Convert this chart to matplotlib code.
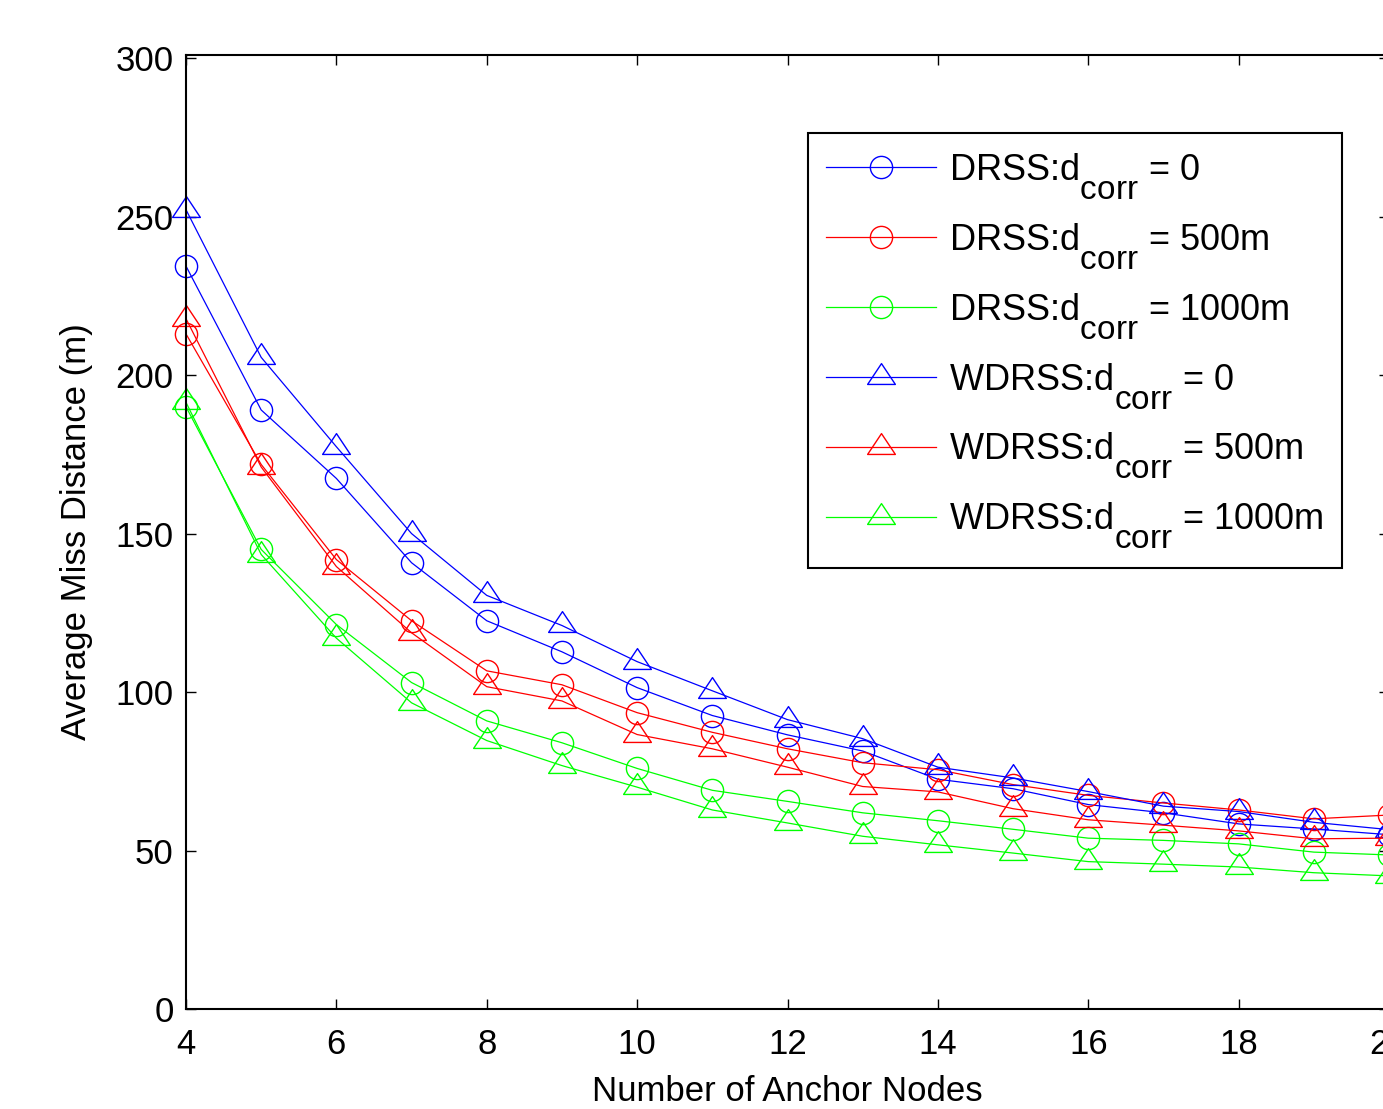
import numpy as np
import matplotlib
matplotlib.use("Agg")
import matplotlib.pyplot as plt
from matplotlib.path import Path
import matplotlib._mathtext as _mt

# MATLAB-like TeX subscripts: nearly full size, dropped lower
_mt.SHRINK_FACTOR = 0.92
_mt.FontConstantsBase.sub1 = 0.95

plt.rcParams['font.family'] = ['Liberation Sans', 'DejaVu Sans']
plt.rcParams['mathtext.fontset'] = 'custom'
plt.rcParams['mathtext.rm'] = 'Liberation Sans'
plt.rcParams['mathtext.it'] = 'Liberation Sans'

anchors = [4, 5, 6, 7, 8, 9, 10, 11, 12, 13, 14, 15, 16, 17, 18, 19, 20]

drss_0 = [234.4, 189.0, 167.4, 140.8, 122.5, 112.7, 101.4, 92.6, 86.5, 81.4, 72.5, 69.5, 64.5, 61.9, 58.4, 56.8, 55.0]
drss_500 = [213.0, 171.8, 141.8, 122.5, 106.7, 102.3, 93.5, 87.3, 82.1, 77.7, 75.5, 70.8, 67.4, 65.0, 62.8, 60.0, 61.2]
drss_1000 = [190.0, 145.0, 121.3, 103.0, 90.9, 84.0, 75.9, 69.0, 65.5, 61.9, 59.4, 56.7, 53.9, 53.2, 52.1, 49.5, 48.6]
wdrss_0 = [252.2, 205.6, 177.4, 150.0, 130.5, 121.0, 109.6, 100.4, 91.3, 85.3, 76.3, 72.9, 68.6, 64.0, 62.3, 58.9, 56.6]
wdrss_500 = [217.8, 171.0, 139.6, 118.7, 101.7, 97.2, 86.6, 82.1, 76.3, 70.2, 68.5, 63.2, 59.7, 58.0, 56.2, 53.7, 53.9]
wdrss_1000 = [191.4, 143.4, 117.0, 96.6, 84.7, 76.8, 70.0, 62.8, 58.7, 54.5, 51.8, 49.2, 46.5, 45.7, 44.8, 43.0, 42.0]

labels = [r'DRSS:d$_{\mathrm{corr}}$ = 0',
          r'DRSS:d$_{\mathrm{corr}}$ = 500m',
          r'DRSS:d$_{\mathrm{corr}}$ = 1000m',
          r'WDRSS:d$_{\mathrm{corr}}$ = 0',
          r'WDRSS:d$_{\mathrm{corr}}$ = 500m',
          r'WDRSS:d$_{\mathrm{corr}}$ = 1000m']
x_ticks = [4, 6, 8, 10, 12, 14, 16, 18, 20]
y_ticks = [0, 50, 100, 150, 200, 250, 300]

tri = Path([(0, 1), (-1, -0.5), (1, -0.5), (0, 1)],
           [Path.MOVETO, Path.LINETO, Path.LINETO, Path.CLOSEPOLY])

W, H = 1383, 1109
FS = 25
LFS = 26
fig = plt.figure(figsize=(W / 100, H / 100), dpi=100)
ax = fig.add_axes([186 / W, 1 - 1009 / H, (1389 - 186) / W, (1009 - 55) / H])

series = [drss_0, drss_500, drss_1000, wdrss_0, wdrss_500, wdrss_1000]
colors = ['#0000ff', '#ff0000', '#00ff00', '#0000ff', '#ff0000', '#00ff00']
for i, (ys, c, lab) in enumerate(zip(series, colors, labels)):
    if i < 3:
        ax.plot(anchors, ys, color=c, lw=0.9, marker='o', ms=16, mfc='none',
                mec=c, mew=1.0, label=lab, clip_on=False)
    else:
        ax.plot(anchors, ys, color=c, lw=0.9, marker=tri, ms=20, mfc='none',
                mec=c, mew=1.0, label=lab, clip_on=False)

ax.set_xlim(4, 20)
ax.set_ylim(0, 301)
ax.set_xticks(x_ticks)
ax.set_yticks(y_ticks)
ax.tick_params(direction='in', length=7, width=1, top=True, right=True,
               labelsize=FS, colors='black')
ax.tick_params(axis='x', pad=14)
ax.tick_params(axis='y', pad=9)
for s in ax.spines.values():
    s.set_linewidth(1.5)

ax.set_xlabel('Number of Anchor Nodes', fontsize=FS, labelpad=10)
ax.set_ylabel('Average Miss Distance (m)', fontsize=FS, labelpad=16)

leg = ax.legend(loc='upper left', bbox_to_anchor=(808 / W, 1 - 133 / H),
                bbox_transform=fig.transFigure, fontsize=LFS, numpoints=1,
                handlelength=3.05, handletextpad=0.36, borderpad=0.5,
                labelspacing=0.55, fancybox=False, framealpha=1,
                edgecolor='black', borderaxespad=0)
leg.get_frame().set_linewidth(1.5)

fig.savefig('out.png', dpi=100)
